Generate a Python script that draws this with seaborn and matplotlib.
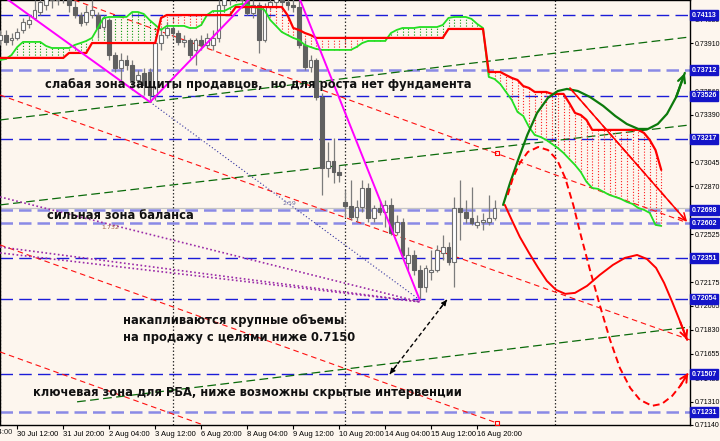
import numpy as np
import matplotlib
matplotlib.use('Agg')
import matplotlib.pyplot as plt
import matplotlib.transforms as mtransforms
import seaborn as sns

# ---------------- data (H4 bars, bar 0 = 30 Jul 00:00) ----------------
opens = [0.73932, 0.73968, 0.73932, 0.73947, 0.74005, 0.74048, 0.74092, 0.74135, 0.74186, 0.74258,
         0.74222, 0.74280, 0.74244, 0.74171, 0.74113, 0.74063, 0.74113, 0.74113, 0.74026, 0.74077,
         0.73823, 0.73729, 0.73787, 0.73751, 0.73642, 0.73693, 0.73700, 0.73533, 0.73910, 0.73968,
         0.74019, 0.73983, 0.73918, 0.73932, 0.73860, 0.73932, 0.73896, 0.73896, 0.73947, 0.74186,
         0.74258, 0.74295, 0.74258, 0.74222, 0.74128, 0.74186, 0.73932, 0.74171, 0.74208, 0.74244,
         0.74208, 0.74186, 0.74171, 0.73896, 0.73736, 0.73787, 0.73519, 0.73004, 0.73055, 0.72975,
         0.72758, 0.72729, 0.72649, 0.72721, 0.72859, 0.72642, 0.72714, 0.72685, 0.72736, 0.72540,
         0.72613, 0.72315, 0.72373, 0.72265, 0.72141, 0.72250, 0.72265, 0.72388, 0.72431, 0.72323,
         0.72714, 0.72685, 0.72642, 0.72591, 0.72613, 0.72613, 0.72642]
highs = [0.74005, 0.74005, 0.73983, 0.74019, 0.74092, 0.74113, 0.74222, 0.74295, 0.74331, 0.74331,
         0.74353, 0.74367, 0.74295, 0.74222, 0.74135, 0.74186, 0.74222, 0.74135, 0.74113, 0.74092,
         0.73845, 0.73838, 0.73823, 0.73787, 0.73715, 0.73729, 0.73729, 0.73932, 0.74019, 0.74063,
         0.74041, 0.74005, 0.73968, 0.73947, 0.73947, 0.73968, 0.73983, 0.74005, 0.74222, 0.74331,
         0.74367, 0.74367, 0.74331, 0.74258, 0.74222, 0.74208, 0.74200, 0.74295, 0.74295, 0.74295,
         0.74258, 0.74258, 0.74222, 0.73932, 0.73823, 0.73802, 0.73548, 0.73193, 0.73222, 0.73026,
         0.72845, 0.72917, 0.72772, 0.72917, 0.72895, 0.72736, 0.72772, 0.72772, 0.72787, 0.72663,
         0.72642, 0.72431, 0.72410, 0.72301, 0.72301, 0.72410, 0.72446, 0.72518, 0.72468, 0.72794,
         0.72917, 0.72772, 0.72866, 0.72663, 0.72678, 0.72808, 0.72772]
lows = [0.73896, 0.73896, 0.73896, 0.73932, 0.73983, 0.74019, 0.74077, 0.74113, 0.74150, 0.74164,
        0.74186, 0.74200, 0.74135, 0.74092, 0.74034, 0.74041, 0.74092, 0.73947, 0.74005, 0.73787,
        0.73700, 0.73620, 0.73715, 0.73570, 0.73584, 0.73533, 0.73482, 0.73497, 0.73860, 0.73947,
        0.73947, 0.73896, 0.73881, 0.73802, 0.73751, 0.73860, 0.73874, 0.73860, 0.73918, 0.74150,
        0.74186, 0.74208, 0.74164, 0.74113, 0.74092, 0.73838, 0.73918, 0.74150, 0.74164, 0.74150,
        0.74150, 0.74135, 0.73874, 0.73715, 0.73700, 0.73497, 0.72808, 0.72939, 0.72895, 0.72903,
        0.72649, 0.72627, 0.72613, 0.72685, 0.72613, 0.72613, 0.72663, 0.72576, 0.72518, 0.72518,
        0.72352, 0.72265, 0.72228, 0.72047, 0.72105, 0.72192, 0.72250, 0.72337, 0.72301, 0.72141,
        0.72482, 0.72605, 0.72591, 0.72569, 0.72555, 0.72591, 0.72627]
closes = [0.73968, 0.73918, 0.73947, 0.73990, 0.74063, 0.74077, 0.74150, 0.74208, 0.74258, 0.74222,
          0.74280, 0.74244, 0.74186, 0.74113, 0.74055, 0.74135, 0.74150, 0.74019, 0.74092, 0.73823,
          0.73729, 0.73787, 0.73751, 0.73642, 0.73678, 0.73606, 0.73533, 0.73910, 0.73968, 0.74019,
          0.73983, 0.73918, 0.73932, 0.73823, 0.73932, 0.73896, 0.73947, 0.73947, 0.74186, 0.74258,
          0.74295, 0.74258, 0.74222, 0.74128, 0.74186, 0.73932, 0.74171, 0.74208, 0.74244, 0.74208,
          0.74186, 0.74171, 0.73896, 0.73736, 0.73787, 0.73519, 0.73004, 0.73055, 0.72975, 0.72953,
          0.72729, 0.72649, 0.72721, 0.72859, 0.72642, 0.72714, 0.72685, 0.72736, 0.72533, 0.72613,
          0.72373, 0.72373, 0.72265, 0.72141, 0.72279, 0.72265, 0.72410, 0.72431, 0.72323, 0.72714,
          0.72685, 0.72642, 0.72605, 0.72613, 0.72627, 0.72642, 0.72714]

# Ichimoku-like cloud lines (one value per bar, 0..115)
cloud_red = ([0.73802] * 12 + [0.73838] * 4 + [0.73910] * 12 + [0.74092] + [0.74113] * 12 +
             [0.74171] * 9 + [0.74113, 0.74019, 0.74005, 0.73983, 0.73968] + [0.73947] * 23 +
             [0.74012] * 7 + [0.73700] * 3 + [0.73678, 0.73657, 0.73642, 0.73598, 0.73584] +
             [0.73555] * 3 + [0.73541] * 3 + [0.73475, 0.73403, 0.73388, 0.73352] + [0.73280] * 9 +
             [0.73258, 0.73207, 0.73134, 0.72990])
cloud_green = ([0.73787, 0.73794, 0.73823, 0.73881] + [0.73918] * 4 + [0.73889] + [0.73874] * 4 +
               [0.73896, 0.73910, 0.73925, 0.73947, 0.74019, 0.74092] + [0.74099] * 4 + [0.74135] * 2 +
               [0.74121, 0.74077, 0.74041, 0.74005] + [0.74034] * 4 + [0.74019] * 2 + [0.74041, 0.74113] +
               [0.74142] * 3 +
               [0.74164, 0.74186, 0.74193, 0.74186, 0.74171, 0.74164, 0.74150, 0.74077, 0.74034, 0.73990,
                0.73968, 0.73947, 0.73932, 0.73896, 0.73881, 0.73867] + [0.73860] * 6 + [0.73881, 0.73910] +
               [0.73925] * 4 + [0.73983, 0.74005] + [0.74019] * 3 + [0.74026] * 4 + [0.74041, 0.74092] +
               [0.74099] * 3 +
               [0.74085, 0.74048, 0.74019, 0.73664, 0.73649, 0.73613, 0.73555, 0.73497, 0.73410, 0.73381,
                0.73301, 0.73243, 0.73229, 0.73207, 0.73178, 0.73149, 0.73113, 0.73069, 0.73026, 0.72975,
                0.72903, 0.72859, 0.72852, 0.72830, 0.72808, 0.72794, 0.72779, 0.72758, 0.72743, 0.72714,
                0.72700, 0.72678, 0.72591, 0.72584])

# horizontal levels
level_values = [0.74113, 0.73712, 0.73526, 0.73217, 0.72698, 0.72602, 0.72351, 0.72054, 0.71507, 0.71231]
level_strong = [False, True, False, False, True, True, False, False, False, True]
current_price = 0.72714

# axis ticks (those fully hidden behind level boxes are left out)
y_ticks = [0.74080, 0.73910, 0.73735, 0.73560, 0.73390, 0.73045, 0.72870,
           0.72525, 0.72175, 0.72005, 0.71830, 0.71655, 0.71480, 0.71310, 0.71140]
x_tick_bars = [3, 11, 19, 27, 35, 43, 51, 59, 67, 75, 83]
x_tick_labels = ['30 Jul 12:00', '31 Jul 20:00', '2 Aug 04:00', '3 Aug 12:00', '6 Aug 20:00',
                 '8 Aug 04:00', '9 Aug 12:00', '10 Aug 20:00', '14 Aug 04:00', '15 Aug 12:00',
                 '16 Aug 20:00']
separator_bars = [0, 30, 60, 96.5]

# drawn objects
zigzag_x = [-1.0, 26.1, 44.9, 51.5, 73.0]
zigzag_y = [0.74295, 0.73482, 0.74295, 0.74295, 0.72047]
red_chan_x = [(12.9, 119.1), (0.0, 120.0), (0.0, 86.4), (0.0, 35.3)]
red_chan_y = [(0.74222, 0.72613), (0.73533, 0.71757), (0.72446, 0.71155), (0.71670, 0.71141)]
red_marks_x = [86.4, 86.4]
red_marks_y = [0.73113, 0.71155]
green_chan_x = [(0.0, 120.0), (0.0, 120.0), (13.4, 120.0)]
green_chan_y = [(0.73352, 0.73954), (0.72736, 0.73316), (0.71308, 0.71851)]
blue_dot_x = [26.1, 73.0]
blue_dot_y = [0.73482, 0.72047]
fan_x = [(0.0, 73.0), (0.0, 73.0), (0.0, 73.0)]
fan_y = [(0.72794, 0.72033), (0.72431, 0.72033), (0.72388, 0.72033)]
dbl_arrow_x = [77.7, 67.8]
dbl_arrow_y = [0.72047, 0.71510]

green_fc_x = [87.5, 88.7, 90.1, 91.7, 93.4, 95.3, 97.0, 98.6, 100.5, 102.6, 104.9, 107.0, 109.0,
              111.0, 112.7, 114.4, 116.0, 117.6, 119.1]
green_fc_y = [0.72736, 0.72895, 0.73062, 0.73243, 0.73403, 0.73512, 0.73562, 0.73577, 0.73562,
              0.73519, 0.73454, 0.73381, 0.73323, 0.73287, 0.73287, 0.73323, 0.73396, 0.73519, 0.73693]
red_fc_x = [87.8, 89.0, 90.4, 92.0, 93.6, 95.1, 96.7, 98.3, 100.0, 102.1, 104.3, 106.6, 108.7,
            110.8, 112.5, 114.1, 115.5, 116.9, 118.3, 119.5]
red_fc_y = [0.72736, 0.72627, 0.72504, 0.72388, 0.72279, 0.72185, 0.72120, 0.72091, 0.72098,
            0.72149, 0.72228, 0.72301, 0.72352, 0.72373, 0.72344, 0.72279, 0.72170, 0.72033,
            0.71888, 0.71757]
red_dash_fc_x = [88.3, 89.2, 90.4, 91.8, 93.6, 95.3, 96.9, 98.3, 99.7, 101.0, 102.6, 104.3, 106.1,
                 107.8, 109.6, 111.3, 113.4, 115.1, 116.9, 118.3, 119.7]
red_dash_fc_y = [0.72808, 0.72931, 0.73040, 0.73120, 0.73156, 0.73134, 0.73062, 0.72931, 0.72736,
                 0.72518, 0.72265, 0.72011, 0.71757, 0.71554, 0.71409, 0.71322, 0.71279, 0.71293,
                 0.71351, 0.71424, 0.71518]
red_ray_x = [99.1, 119.5]
red_ray_y = [0.73584, 0.72613]

notes = ['слабая зона защиты продавцов,  но для роста нет фундамента',
         'сильная зона баланса',
         'накапливаются крупные объемы',
         'на продажу с целями ниже 0.7150',
         'ключевая зона для РБА, ниже возможны скрытые интервенции']
notes_x = [7.83, 8.17, 21.4, 21.4, 5.74]
notes_y = [0.73606, 0.72656, 0.71895, 0.71772, 0.71373]

# ---------------- drawing ----------------
sns.set_theme(style='white')
plt.rcParams['font.family'] = ['DejaVu Sans']

BG = '#fdf6ee'
AXFONT = ['Liberation Sans', 'DejaVu Sans']
fig = plt.figure(figsize=(7.2, 4.41), dpi=100, facecolor=BG)
ax = fig.add_axes([0, 16 / 441, 690 / 720, 425 / 441])
ax.set_facecolor(BG)
ax.set_xlim(0, 120)
ax.set_ylim(0.71140, 0.74222)

# levels
for v, strong in zip(level_values, level_strong):
    if strong:
        ax.axhline(v, color='#8a8ae6', lw=1.8, dashes=(5, 2.4), zorder=2)
    else:
        ax.axhline(v, color='#1c1cd8', lw=1.0, dashes=(9, 4.5), zorder=2)
ax.axhline(current_price, color='#c4c4c4', lw=0.9, zorder=1.8)

# separators
for b in separator_bars:
    ax.axvline(b, color='#303030', lw=0.9, ls=(0, (1.2, 1.6)), zorder=1.9)

# trend lines
for xs, ys in zip(red_chan_x, red_chan_y):
    ax.plot(xs, ys, color='#ff1010', lw=0.8, dashes=(5, 3.5), zorder=3)
ax.plot(red_marks_x, red_marks_y, ls='none', marker='s', ms=3, mfc='none', mec='red', mew=0.8, zorder=3)
for xs, ys in zip(green_chan_x, green_chan_y):
    ax.plot(xs, ys, color='#0a6a0a', lw=0.9, dashes=(7, 3.5), zorder=3)
ax.plot(blue_dot_x, blue_dot_y, color='#3030a0', lw=0.8, ls=(0, (1, 2)), zorder=3)
for xs, ys in zip(fan_x, fan_y):
    ax.plot(xs, ys, color='#9a2aa8', lw=1.2, ls=(0, (1, 1.5)), zorder=3)

# cloud hatch + lines
cloud_bars = np.arange(len(cloud_red))
r = np.array(cloud_red)
g = np.array(cloud_green)
hcol = np.where(r > g, '#ff2020', '#0a9a0a')
ax.vlines(cloud_bars, np.minimum(r, g), np.maximum(r, g), colors=hcol, linestyles=(0, (1, 1.6)),
          lw=0.8, zorder=3.2)

# candles
o = np.array(opens); h = np.array(highs); l = np.array(lows); c = np.array(closes)
bars = np.arange(len(o))
up = c >= o
ax.vlines(bars, l, h, color='#7c7c7c', lw=0.9, zorder=4)
bottom = np.minimum(o, c)
height = np.maximum(np.abs(c - o), 0.00003)
ax.bar(bars[up], height[up], bottom=bottom[up], width=0.62, color='white', edgecolor='#707070',
       linewidth=0.8, zorder=4.5)
ax.bar(bars[~up], height[~up], bottom=bottom[~up], width=0.62, color='#606060', edgecolor='#606060',
       linewidth=0.8, zorder=4.5)

sns.lineplot(x=cloud_bars, y=cloud_green, color='#22e022', lw=1.3, ax=ax, zorder=5,
             estimator=None, sort=False)
sns.lineplot(x=cloud_bars, y=cloud_red, color='#ff0000', lw=1.6, ax=ax, zorder=5.1,
             estimator=None, sort=False)

# zigzag
ax.plot(zigzag_x, zigzag_y, color='#ff00ff', lw=1.4, zorder=6)

# small labels
ax.text(19.1, 0.72569, '1.732', fontsize=4.5, color='#a06040', ha='center', va='center', zorder=6)
ax.text(49.2, 0.72745, '2.59', fontsize=4.5, color='#7070a0', ha='left', va='center', zorder=6)

# black double arrow
ax.plot(dbl_arrow_x, dbl_arrow_y, color='black', lw=1.0, ls=(0, (3, 2)), zorder=7)
for i, j in [(0, 1), (1, 0)]:
    ax.annotate('', xy=(dbl_arrow_x[i], dbl_arrow_y[i]),
                xytext=(dbl_arrow_x[i] + 0.12 * (dbl_arrow_x[j] - dbl_arrow_x[i]),
                        dbl_arrow_y[i] + 0.12 * (dbl_arrow_y[j] - dbl_arrow_y[i])),
                arrowprops=dict(arrowstyle='-|>', color='black', lw=0.8, mutation_scale=8,
                                shrinkA=0, shrinkB=0), zorder=7)

# forecast curves
def arrow_curve(xs, ys, color, lw, ls):
    ax.plot(xs, ys, color=color, lw=lw, ls=ls, zorder=8, solid_capstyle='round')
    ax.annotate('', xy=(xs[-1], ys[-1]), xytext=(xs[-2], ys[-2]),
                arrowprops=dict(arrowstyle='->', color=color, lw=lw, mutation_scale=13,
                                shrinkA=0, shrinkB=0), zorder=8)

arrow_curve(green_fc_x, green_fc_y, '#0c7a0c', 1.6, '-')
arrow_curve(red_fc_x, red_fc_y, '#ff0000', 1.4, '-')
arrow_curve(red_dash_fc_x, red_dash_fc_y, '#ff0000', 1.4, (0, (3.5, 2)))
arrow_curve(red_ray_x, red_ray_y, '#ff0000', 1.1, (0, (4, 2.5)))

# notes
for t, x, y in zip(notes, notes_x, notes_y):
    ax.text(x, y, t, fontsize=8.3, fontweight='bold', color='#111111', ha='left', va='center',
            zorder=15)

# axes styling
for s in ax.spines.values():
    s.set_color('black')
    s.set_linewidth(1.0)
ax.yaxis.tick_right()
ax.set_yticks(y_ticks)
ax.set_yticklabels([f'{t:.5f}' for t in y_ticks], family=AXFONT)
ax.tick_params(axis='y', which='both', right=True, left=False, labelright=True, labelleft=False,
               length=2.2, width=0.8, pad=1.0, labelsize=5.0, colors='black', direction='out')
ax.set_xticks(x_tick_bars)
ax.set_xticklabels(x_tick_labels, ha='left', family=AXFONT)
ax.tick_params(axis='x', bottom=True, length=3, width=0.8, pad=1.5, labelsize=5.5, colors='black',
               direction='out')
blend_x = mtransforms.blended_transform_factory(ax.transData, ax.transAxes)
ax.text(-5, -0.0085, '27 Jul 04:00', transform=blend_x, fontsize=5.5, family=AXFONT,
        ha='left', va='top', clip_on=False)
ax.set_xlabel('')
ax.set_ylabel('')
ax.grid(False)

# level boxes on price axis
blend_y = mtransforms.blended_transform_factory(ax.transAxes, ax.transData)
for v in level_values:
    ax.text(1.0022, v, f'{v:.5f}', transform=blend_y, ha='left', va='center', fontsize=5.0,
            family=AXFONT, color='white', fontweight='bold', clip_on=False, zorder=20,
            bbox=dict(boxstyle='square,pad=0.22', fc='#1414c8', ec='#1414c8'))

fig.savefig('out.png', dpi=100, facecolor=BG)
